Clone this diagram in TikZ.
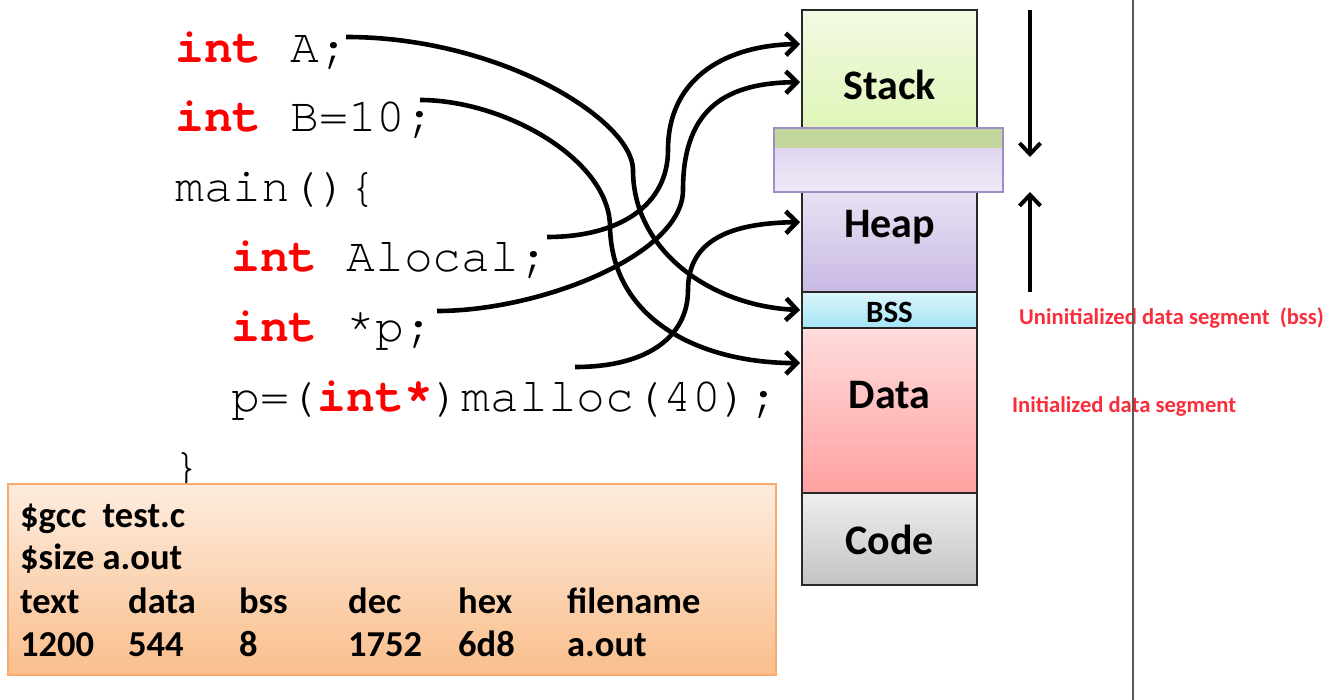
\documentclass[tikz,border=0pt]{standalone}
\usepackage{fontspec}
\setmainfont{Carlito}
\newfontfamily\codefont{TeX Gyre Cursor}
\usetikzlibrary{arrows.meta,calc}

\definecolor{kwred}{RGB}{255,0,0}
\definecolor{notered}{RGB}{250,45,60}
\definecolor{bandgreen}{RGB}{195,214,155}
\definecolor{gapedge}{RGB}{160,140,200}
\definecolor{segedge}{RGB}{40,40,40}
\definecolor{boxedge}{RGB}{247,170,110}

\newcommand\kwd[1]{\textcolor{kwred}{\bfseries #1}}

\tikzset{
  code/.style={font=\codefont\fontsize{48}{56}\selectfont, anchor=base west, inner sep=0pt},
  seg/.style={draw=segedge, line width=1.8pt, minimum width=175pt, inner sep=0pt},
  memlbl/.style={font=\bfseries\fontsize{42}{50}\selectfont, inner sep=0pt},
  link/.style={line width=4.6pt, -{Straight Barb[length=11pt,width=22pt]}},
  growth/.style={line width=4pt, -{Straight Barb[length=11pt,width=21pt]}},
  cmdtxt/.style={font=\bfseries\fontsize{36.5}{44}\selectfont, anchor=base west, inner sep=0pt},
  note/.style={font=\bfseries\fontsize{22.6}{27}\selectfont, text=notered, anchor=west, inner sep=0pt},
}

\begin{document}
\begin{tikzpicture}[x=1pt,y=-1pt]
\useasboundingbox (0,0) rectangle (1342,700);

% source listing
\node[code] (lA)    at (175,63)  {\kwd{int} A;};
\node[code] (lB)    at (175,132) {\kwd{int} B=10;};
\node[code] (lmain) at (175,202) {main()\{};
\node[code] (lAl)   at (231,272) {\kwd{int} Alocal;};
\node[code] (lp)    at (231,342) {\kwd{int} *p;};
\node[code] (lm)    at (231,412) {p=(\kwd{int*})malloc(40);};
\node[code] (lend)  at (172,482) {\}};

% memory layout column
\node[seg, minimum height=118pt, top color={rgb,255:red,241;green,250;blue,226}, bottom color={rgb,255:red,224;green,245;blue,184}] (stack) at (889.5,69) {};
\node[seg, minimum height=100pt, top color={rgb,255:red,233;green,225;blue,243}, bottom color={rgb,255:red,200;green,185;blue,228}] (heap) at (889.5,242) {};
\node[seg, minimum height=36pt, top color={rgb,255:red,218;green,245;blue,252}, bottom color={rgb,255:red,165;green,228;blue,245}] (bss) at (889.5,310) {};
\node[seg, minimum height=165pt, top color={rgb,255:red,255;green,220;blue,220}, bottom color={rgb,255:red,255;green,160;blue,160}] (data) at (889.5,410.5) {};
\node[seg, minimum height=92pt, top color={rgb,255:red,238;green,238;blue,238}, bottom color={rgb,255:red,195;green,195;blue,195}] (code) at (889.5,539) {};

% free gap between stack and heap
\node[draw=gapedge, line width=1.5pt, minimum width=229pt, minimum height=64pt, inner sep=0pt,
      top color={rgb,255:red,218;green,205;blue,235}, bottom color={rgb,255:red,238;green,234;blue,247},
      path picture={\fill[bandgreen] (path picture bounding box.north west) rectangle ([yshift=-20pt]path picture bounding box.north east);}]
      (gap) at (888.5,160) {};

\node[memlbl] (stackT) at (889.5,85)  {Stack};
\node[memlbl] (heapT)  at (889.5,227) {Heap};
\node[memlbl, font=\bfseries\fontsize{31}{36}\selectfont] (bssT) at (889.5,312) {BSS};
\node[memlbl] (dataT)  at (889.5,395) {Data};
\node[memlbl] (codeT)  at (889.5,540) {Code};

% where each variable lives
\coordinate (sA)  at (346,37);
\coordinate (sB)  at (420,100);
\coordinate (sAl) at (547,237);
\coordinate (sp)  at (437,311);
\coordinate (sm)  at (575,367);

\draw[link] (sA) .. controls (500,37) and (633,120) .. (633,170)
                 .. controls (633,250) and (710,306) .. ($(bss.west)+(-1,0)$);
\draw[link] (sB) .. controls (505,100) and (610,160) .. (610,227)
                 .. controls (612,320) and (700,363) .. ($(data.north west)+(-1,36)$);
\draw[link] (sAl) .. controls (620,237) and (668,205) .. (668,150)
                  .. controls (668,75) and (730,45) .. ($(stack.north west)+(-1,35)$);
\draw[link] (sp) .. controls (540,311) and (683,255) .. (683,190)
                 .. controls (683,105) and (730,83) .. ($(stack.north west)+(-1,73)$);
\draw[link] (sm) .. controls (650,367) and (688,335) .. (688,290)
                 .. controls (688,235) and (740,223) .. ($(heap.north west)+(-1,31)$);

% growth directions
\coordinate (dnFrom) at (1030,10);
\coordinate (dnTo)   at (1030,157);
\coordinate (upFrom) at (1030,292);
\coordinate (upTo)   at (1030,192);
\draw[growth] (dnFrom) -- (dnTo);
\draw[growth] (upFrom) -- (upTo);

% segment notes
\node[note] (bssNote)  at (1019,318) {Uninitialized data segment~ (bss)};
\node[note] (dataNote) at (1012,406) {Initialized data segment};

% separator
\coordinate (sepTop) at (1133,0);
\coordinate (sepBot) at (1133,700);
\draw[line width=2.4pt, black!65] (sepTop) -- (sepBot);

% size output
\node[draw=boxedge, line width=1.5pt, minimum width=768pt, minimum height=191pt, inner sep=0pt,
      top color={rgb,255:red,253;green,236;blue,222}, bottom color={rgb,255:red,250;green,190;blue,140}]
      (cmd) at (392,579.5) {};
\node[cmdtxt] (c1) at (20,527) {\$gcc~ test.c};
\node[cmdtxt] (c2) at (20,569) {\$size a.out};
\node[cmdtxt] (h1) at (20,613)  {text};
\node[cmdtxt] (h2) at (128,613) {data};
\node[cmdtxt] (h3) at (239,613) {bss};
\node[cmdtxt] (h4) at (348,613) {dec};
\node[cmdtxt] (h5) at (458,613) {hex};
\node[cmdtxt] (h6) at (567,613) {filename};
\node[cmdtxt] (v1) at (20,656)  {1200};
\node[cmdtxt] (v2) at (128,656) {544};
\node[cmdtxt] (v3) at (239,656) {8};
\node[cmdtxt] (v4) at (348,656) {1752};
\node[cmdtxt] (v5) at (458,656) {6d8};
\node[cmdtxt] (v6) at (567,656) {a.out};
\end{tikzpicture}
\end{document}
